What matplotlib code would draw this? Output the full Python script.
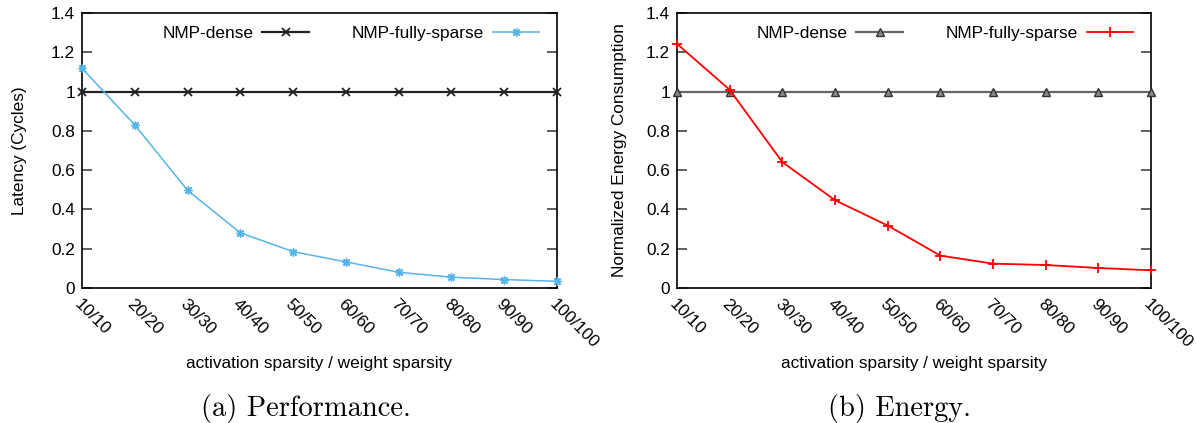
#!/usr/bin/env python3
"""Latency and energy of NMP-dense vs NMP-fully-sparse across sparsity levels."""

import matplotlib
matplotlib.use('Agg')
import matplotlib.pyplot as plt
import numpy as np

plt.rcParams['font.family'] = ['Liberation Sans', 'DejaVu Sans']

W, H = 1198, 423

SPARSITY = ['10/10', '20/20', '30/30', '40/40', '50/50',
            '60/60', '70/70', '80/80', '90/90', '100/100']
LATENCY_DENSE = [1.0, 1.0, 1.0, 1.0, 1.0, 1.0, 1.0, 1.0, 1.0, 1.0]
LATENCY_SPARSE = [1.119, 0.830, 0.497, 0.281, 0.185, 0.133, 0.080, 0.055, 0.043, 0.034]
ENERGY_DENSE = [1.0, 1.0, 1.0, 1.0, 1.0, 1.0, 1.0, 1.0, 1.0, 1.0]
ENERGY_SPARSE = [1.243, 1.009, 0.641, 0.447, 0.318, 0.165, 0.124, 0.117, 0.102, 0.090]
Y_TICKS = [0, 0.2, 0.4, 0.6, 0.8, 1.0, 1.2, 1.4]
Y_TICK_LABELS = ['0', '0.2', '0.4', '0.6', '0.8', '1', '1.2', '1.4']

FS = 12.4
AX_TOP, AX_BOTTOM = 13, 288


def px_axes(fig, left, top, right, bottom):
    return fig.add_axes([left / W, 1 - bottom / H, (right - left) / W, (bottom - top) / H])


def style(ax, ylabel, ylabel_x):
    x = np.arange(len(SPARSITY))
    ax.set_xlim(x[0], x[-1])
    ax.set_ylim(0, 1.4)
    ax.set_xticks(x)
    ax.set_xticklabels(SPARSITY, rotation=-45, ha='left', va='top',
                       rotation_mode='anchor', fontsize=FS)
    ax.tick_params(axis='x', length=0, pad=6)
    ax.set_yticks(Y_TICKS)
    ax.set_yticklabels(Y_TICK_LABELS, fontsize=FS)
    ax.tick_params(axis='y', direction='in', length=7, width=1.2,
                   right=True, color='#444444', pad=5)
    for s in ax.spines.values():
        s.set_linewidth(1.2)
    ax.set_ylabel(ylabel, fontsize=FS)
    ax.set_xlabel('activation sparsity / weight sparsity', fontsize=FS)
    height = AX_BOTTOM - AX_TOP
    ax.xaxis.set_label_coords(0.5, -(356 - AX_BOTTOM) / height)
    ax.yaxis.set_label_coords(ylabel_x, 0.5)


def add_legend(ax):
    return ax.legend(ncol=2, markerfirst=False, frameon=False, loc='upper right',
                     bbox_to_anchor=(0.99, 1.0), fontsize=FS, handlelength=2.7,
                     columnspacing=2.5, handletextpad=0.5, borderaxespad=0.35)


fig = plt.figure(figsize=(W / 100, H / 100), dpi=100)
x = np.arange(len(SPARSITY))

# (a) Performance
ax1 = px_axes(fig, 82, AX_TOP, 557, AX_BOTTOM)
ax1.plot(x, LATENCY_DENSE, color='#222222', lw=1.6, marker='x', ms=5.5,
         mew=1.3, label='NMP-dense', clip_on=False, zorder=3)
ax1.plot(x, LATENCY_SPARSE, color='#56b4e9', lw=1.1, marker=(8, 2, 0), ms=6,
         mew=1.0, label='NMP-fully-sparse', clip_on=False, zorder=4)
style(ax1, 'Latency (Cycles)', -(82 - 27) / 475)
add_legend(ax1)

# (b) Energy
ax2 = px_axes(fig, 677, AX_TOP, 1151, AX_BOTTOM)
ax2.plot(x, ENERGY_DENSE, color='#666666', lw=1.6, marker='^', ms=5.5,
         mfc='#888888', mec='#333333', mew=1.0, label='NMP-dense',
         clip_on=False, zorder=3)
ax2.plot(x, ENERGY_SPARSE, color='#ff0000', lw=1.3, marker='+', ms=6.5,
         mew=1.3, label='NMP-fully-sparse', clip_on=False, zorder=4)
style(ax2, 'Normalized Energy Consumption', -(677 - 627) / 474)
add_legend(ax2)

fig.text(306 / W, 1 - 408 / H, '(a) Performance.', family='cmr10',
         fontsize=20.5, ha='center', va='center')
fig.text(900 / W, 1 - 408 / H, '(b) Energy.', family='cmr10',
         fontsize=20.5, ha='center', va='center')

fig.savefig('out.png', dpi=100, facecolor='white')
